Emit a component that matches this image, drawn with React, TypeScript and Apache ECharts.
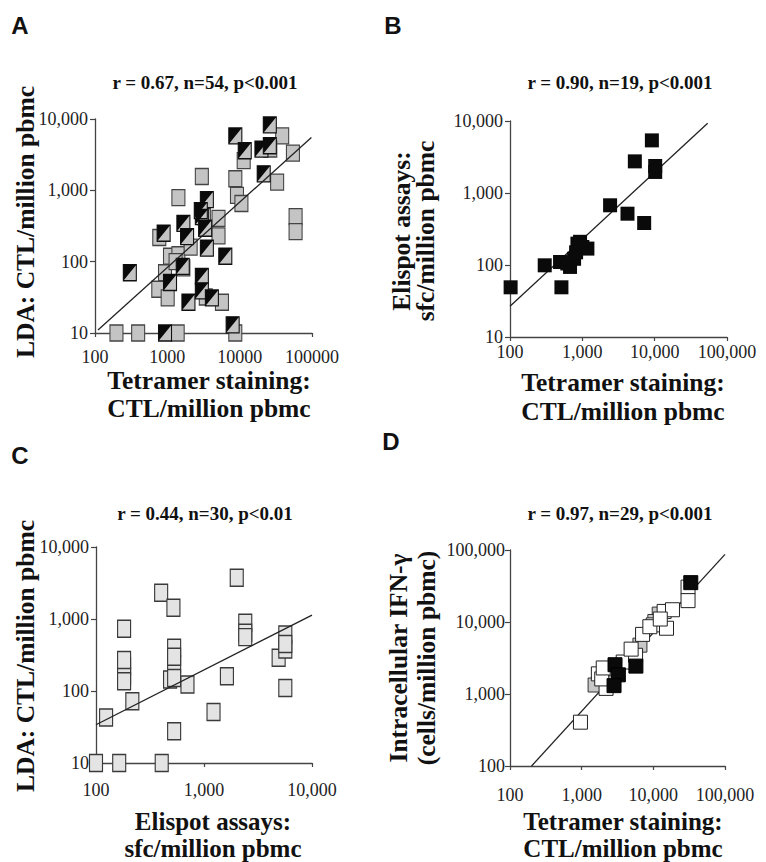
import React, { useEffect, useRef } from "react";
import * as echarts from "echarts";

// ---------- Panel A: Tetramer (x) vs LDA (y) ----------
const aGrey: number[][] = [
  [198, 10], [395, 10], [1390, 10], [8700, 10],
  [774, 218], [1422, 790], [3000, 1563], [5100, 404], [5100, 230],
  [1089, 119], [1422, 125], [929, 70], [750, 41], [1011, 31], [1667, 82], [5690, 27],
  [8710, 1452], [9180, 850], [10570, 653], [11370, 2610], [32960, 1306], [38700, 5800],
  [54500, 3330], [59300, 427], [59300, 264], [26500, 3800], [3200, 430], [3400, 32],
  [1300, 100], [2100, 160],
];
const aHalf: number[][] = [
  [303, 70], [889, 250], [1667, 345], [1875, 225], [1633, 86], [1089, 51], [1958, 27],
  [3000, 427], [3519, 741], [3333, 294], [3519, 155], [3000, 62], [3000, 39], [4130, 31],
  [6330, 119], [8710, 5800], [11750, 3590], [20000, 3790], [21500, 1705], [26100, 8260],
  [26100, 4220], [929, 10], [8000, 13], [2900, 520],
];
const aLine: number[][] = [[110, 11], [98000, 5500]];

// ---------- Panel B: Tetramer (x) vs Elispot (y) ----------
const bPts: number[][] = [
  [102, 49], [302, 99], [492, 110], [514, 49], [676, 94], [769, 122], [855, 198], [1000, 178],
  [1175, 169], [820, 150], [2420, 675], [4210, 516], [5320, 2750], [7160, 383], [9150, 5380],
  [10170, 2370], [10170, 1960], [620, 105], [930, 210],
];
const bLine: number[][] = [[100, 26.7], [54000, 9300]];

// ---------- Panel C: Elispot (x) vs LDA (y) ----------
const cPts: number[][] = [
  [100, 10], [164, 10], [406, 10], [124, 43], [182, 731], [182, 221], [182, 160], [182, 137],
  [217, 72], [401, 2310], [521, 1432], [529, 398], [529, 233], [485, 144], [529, 152], [703, 123],
  [529, 27.5], [1225, 51], [1630, 160], [2010, 3740], [2410, 885], [2410, 643], [4910, 289],
  [5660, 610], [5660, 377], [5660, 110], [529, 300], [2410, 560], [5660, 450], [182, 270],
];
const cLine: number[][] = [[100, 34], [10000, 1132]];

// ---------- Panel D: Tetramer (x) vs intracellular IFN-g (y) ----------
const dWhite: number[][] = [
  [962, 406], [1710, 1905], [2190, 1197], [2235, 2240], [1905, 1620], [3800, 2780], [5650, 3450],
  [7080, 6730], [9980, 9120], [14150, 14030], [18500, 14800], [15270, 8190], [30500, 30500],
  [30500, 19800], [8940, 8600], [2000, 2300], [12500, 11000], [4900, 4200],
];
const dGrey: number[][] = [
  [1710, 1377], [6500, 4770], [12080, 12880], [10500, 10170], [1540, 1333], [2260, 1846],
];
const dBlack: number[][] = [
  [2920, 2550], [3250, 1846], [2830, 1306], [5710, 2440], [33300, 35200],
];
const dLine: number[][] = [[200, 100], [100000, 87100]];

const titles = ["r = 0.67, n=54, p<0.001", "r = 0.90, n=19, p<0.001", "r = 0.44, n=30, p<0.01", "r = 0.97, n=29, p<0.001"];
const panelLetters = ["A", "B", "C", "D"];
const xTitles = [
  "Tetramer staining:\nCTL/million pbmc",
  "Tetramer staining:\nCTL/million pbmc",
  "Elispot assays:\nsfc/million pbmc",
  "Tetramer staining:\nCTL/million pbmc",
];
const yTitles = [
  "LDA: CTL/million pbmc",
  "Elispot assays:\nsfc/million pbmc",
  "LDA: CTL/million pbmc",
  "Intracellular IFN-\u03b3\n(cells/million pbmc)",
];

const SERIF = '"Liberation Serif", "Times New Roman", serif';

function fmtComma(v: number): string {
  return Math.round(v).toLocaleString("en-US");
}
function fmtPlain(v: number): string {
  return String(Math.round(v));
}

export default function App() {
  const ref = useRef<HTMLDivElement>(null);

  useEffect(() => {
    if (!ref.current) return;
    const chart = echarts.init(ref.current, null, { renderer: "svg" });

    const grids = [
      { left: 95, top: 119, width: 217, height: 214 },
      { left: 510, top: 121, width: 217, height: 216 },
      { left: 96, top: 547, width: 216, height: 216 },
      { left: 510, top: 550, width: 215, height: 216 },
    ];

    const axisLine = { lineStyle: { color: "#444", width: 1.3 } };
    const mkX = (i: number, min: number, max: number, comma: boolean, margin: number) => ({
      type: "log",
      logBase: 10,
      gridIndex: i,
      min,
      max,
      axisLine: { show: true, onZero: false, ...axisLine },
      axisTick: { show: true, length: 4, lineStyle: { color: "#444", width: 1.2 } },
      splitLine: { show: false },
      axisLabel: {
        margin,
        color: "#222",
        fontFamily: SERIF,
        fontSize: 18,
        formatter: (v: number) => (comma ? fmtComma(v) : fmtPlain(v)),
      },
    });
    const mkY = (i: number, min: number, max: number, margin: number) => ({
      type: "log",
      logBase: 10,
      gridIndex: i,
      min,
      max,
      axisLine: { show: true, onZero: false, ...axisLine },
      axisTick: { show: true, length: 5, lineStyle: { color: "#444", width: 1.2 } },
      splitLine: { show: false },
      axisLabel: {
        margin,
        color: "#222",
        fontFamily: SERIF,
        fontSize: 18,
        formatter: (v: number) => fmtComma(v),
      },
    });

    const lineSeries = (i: number, data: number[][], z: number) => ({
      type: "line",
      xAxisIndex: i,
      yAxisIndex: i,
      data,
      symbol: "none",
      lineStyle: { color: "#222", width: 1.3 },
      z,
      silent: true,
    });

    const scatter = (i: number, data: number[][], symbol: string, size: number[], style: any, z: number) => ({
      type: "scatter",
      xAxisIndex: i,
      yAxisIndex: i,
      data,
      symbol,
      symbolSize: size,
      itemStyle: { opacity: 1, ...style },
      z,
      silent: true,
    });

    const tri = "path://M0,0L10,0L0,10Z";

    const txt = (text: string, x: number, y: number, font: string, rotation = 0, lineHeight?: number) => ({
      type: "text",
      x,
      y,
      rotation,
      style: {
        text,
        font,
        fill: "#111",
        lineHeight,
        textAlign: "center",
        textVerticalAlign: "middle",
        align: "center",
        verticalAlign: "middle",
      },
    });

    const titleFont = `bold 19px ${SERIF}`;
    const axFont = `bold 25.5px ${SERIF}`;
    const axFontSm = `bold 25px ${SERIF}`;
    const letterFont = 'bold 24px "Liberation Sans", Arial, sans-serif';
    const R = Math.PI / 2;

    const graphic = [
      txt(panelLetters[0], 20, 25, letterFont),
      txt(panelLetters[1], 393, 25, letterFont),
      txt(panelLetters[2], 20, 455, letterFont),
      txt(panelLetters[3], 391, 441, letterFont),
      txt(titles[0], 205, 82, titleFont),
      txt(titles[1], 620, 82, titleFont),
      txt(titles[2], 205, 513, titleFont),
      txt(titles[3], 620, 513, titleFont),
      // x titles
      txt(xTitles[0], 209, 394, axFont, 0, 28),
      txt(xTitles[1], 623, 397, axFont, 0, 29),
      txt(xTitles[2], 213, 835, axFontSm, 0, 27.5),
      txt(xTitles[3], 623, 835, axFontSm, 0, 27.5),
      // y titles
      txt(yTitles[0], 25, 222, axFont, R),
      txt(yTitles[1], 413, 231, axFont, R, 24),
      txt(yTitles[2], 25, 656, axFont, R),
      txt(yTitles[3], 412, 658, axFont, R, 28),
    ];

    const greyA = { color: "#c4c4c4", borderColor: "#444", borderWidth: 1.2 };

    chart.setOption({
      animation: false,
      backgroundColor: "#ffffff",
      grid: grids,
      xAxis: [
        mkX(0, 100, 100000, false, 15),
        mkX(1, 100, 100000, true, 6),
        mkX(2, 100, 10000, true, 18),
        mkX(3, 100, 100000, true, 20),
      ],
      yAxis: [mkY(0, 10, 10000, 7), mkY(1, 10, 10000, 7), mkY(2, 10, 10000, 7), mkY(3, 100, 100000, 5)],
      series: [
        // A
        scatter(0, aGrey, "rect", [13, 16], greyA, 2),
        scatter(0, aHalf, "rect", [13, 16], { color: "#c4c4c4", borderColor: "#111", borderWidth: 1.2 }, 3),
        scatter(0, aHalf, tri, [13, 16], { color: "#0a0a0a" }, 4),
        lineSeries(0, aLine, 6),
        // B
        lineSeries(1, bLine, 1),
        scatter(1, bPts, "rect", [14, 14], { color: "#0a0a0a" }, 3),
        // C
        scatter(2, cPts, "rect", [13, 17], { color: "#e4e4e4", borderColor: "#3a3a3a", borderWidth: 1.3 }, 2),
        lineSeries(2, cLine, 6),
        // D
        lineSeries(3, dLine, 1),
        scatter(3, dGrey, "rect", [14, 14], { color: "#c8c8c8", borderColor: "#333", borderWidth: 1 }, 2),
        scatter(3, dWhite, "rect", [14, 14], { color: "#ffffff", borderColor: "#222", borderWidth: 1 }, 3),
        scatter(3, dBlack, "rect", [14, 14], { color: "#0a0a0a", borderColor: "#000", borderWidth: 1 }, 4),
      ],
      graphic,
    });

    return () => {
      chart.dispose();
    };
  }, []);

  return (
    <div
      ref={ref}
      style={{ position: "absolute", left: 0, top: 0, width: 766, height: 862, background: "#fff" }}
    />
  );
}
